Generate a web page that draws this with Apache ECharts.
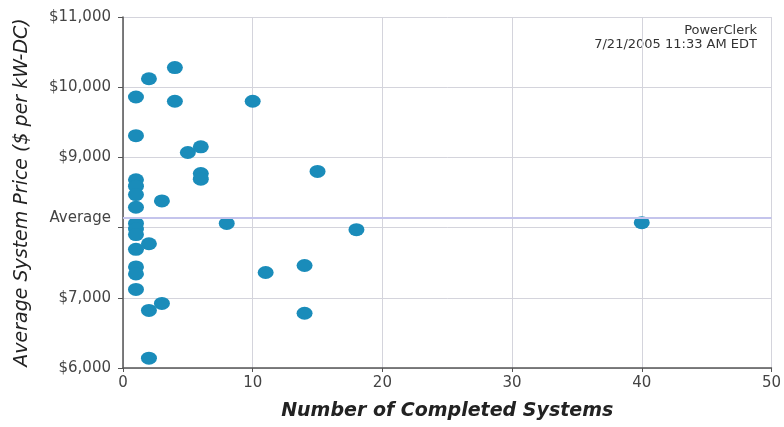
<!DOCTYPE html>
<html>
<head>
<meta charset="utf-8">
<script src="https://cdn.jsdelivr.net/npm/echarts@6/dist/echarts.min.js"></script>
<style>
html,body{margin:0;padding:0;background:#fff;}
#c{width:784px;height:427px;}
</style>
</head>
<body>
<div id="c"></div>
<script>
var xValues = [1,2,4,4,10,1,5,6,15,6,6,1,1,1,3,1,8,1,1,1,18,2,1,11,14,1,1,1,2,3,14,2,40];
var yValues = [9860,10120,10280,9800,9800,9310,9070,9150,8800,8770,8690,8680,8590,8470,8380,8290,8060,8060,7980,7900,7970,7770,7690,7360,7460,7440,7340,7120,6820,6920,6780,6140,8070];
var averagePrice = 8140;
var xTicks = [0,10,20,30,40,50];
var yTicks = [6000,7000,8000,9000,10000,11000];
var noteLines = ['PowerClerk','7/21/2005 11:33 AM EDT'];

var points = xValues.map(function(x,i){return [x, yValues[i]];});
var font = '"DejaVu Sans", "Liberation Sans", Arial, sans-serif';
var chart = echarts.init(document.getElementById('c'));
chart.setOption({
  animation:false,
  backgroundColor:'#fff',
  grid:{left:123,right:12,top:17,bottom:59},
  graphic:[{
    type:'text', right:27, top:24,
    style:{text:noteLines.join('\n'), font:'13px '+font, fill:'#333', textAlign:'right', lineHeight:14}
  }],
  xAxis:{
    type:'value', min:xTicks[0], max:xTicks[xTicks.length-1], interval:10,
    name:'Number of Completed Systems', nameLocation:'middle', nameGap:34,
    nameTextStyle:{fontFamily:font, fontSize:19, fontWeight:'bold', fontStyle:'italic', color:'#222'},
    axisLine:{show:true, lineStyle:{color:'#555', width:1.5}},
    axisTick:{show:true, length:4, lineStyle:{color:'#555'}},
    axisLabel:{fontFamily:font, fontSize:15, color:'#444', margin:8},
    splitLine:{show:true, lineStyle:{color:'#d4d4dc', width:1}}
  },
  yAxis:{
    type:'value', min:yTicks[0], max:yTicks[yTicks.length-1], interval:1000,
    name:'Average System Price ($ per kW-DC)', nameLocation:'middle', nameGap:91,
    nameTextStyle:{fontFamily:font, fontSize:19, fontStyle:'italic', color:'#222'},
    axisLine:{show:true, lineStyle:{color:'#555', width:1.5}},
    axisTick:{show:true, length:5, lineStyle:{color:'#555'}},
    axisLabel:{fontFamily:font, fontSize:15, color:'#444', margin:12,
      formatter:function(v){ return v===8000 ? '' : '$' + v.toLocaleString('en-US'); }},
    splitLine:{show:true, lineStyle:{color:'#d4d4dc', width:1}}
  },
  series:[{
    type:'scatter',
    data:points,
    symbol:'circle',
    symbolSize:[16,13],
    itemStyle:{color:'#1a8cba', opacity:1},
    z:3,
    markLine:{
      silent:true, symbol:'none',
      lineStyle:{color:'#c4c4ec', width:2, type:'solid'},
      label:{show:true, position:'start', formatter:'Average', fontFamily:font, fontSize:15, color:'#444', distance:12},
      data:[{yAxis:averagePrice}]
    }
  }]
});
</script>
</body>
</html>
